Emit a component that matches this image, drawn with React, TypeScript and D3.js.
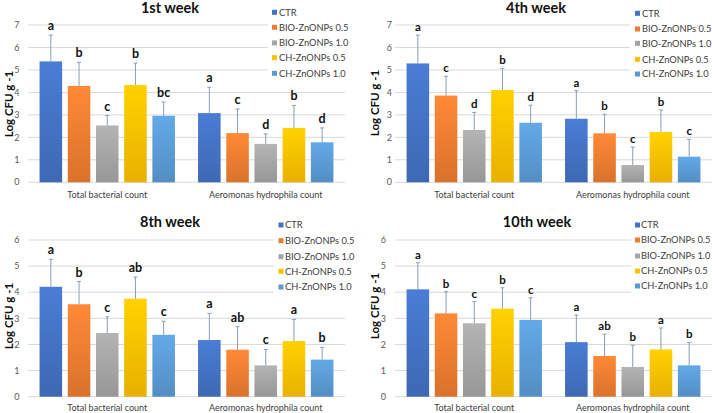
import React from "react";
import * as d3 from "d3";

const categories = ["Total bacterial count", "Aeromonas hydrophila count"];
const seriesNames = ["CTR", "BIO-ZnONPs 0.5", "BIO-ZnONPs 1.0", "CH-ZnONPs 0.5", "CH-ZnONPs 1.0"];
const seriesColors = ["#4472C4", "#ED7D31", "#A5A5A5", "#FFC000", "#5B9BD5"];
const weekTitles = ["1st week", "4th week", "8th week", "10th week"];
const yMaxes = [7, 7, 6, 6];

// means per week: [total bacterial, aeromonas]
const week1Means = [[5.38, 4.29, 2.53, 4.33, 2.96], [3.08, 2.19, 1.71, 2.42, 1.78]];
const week1Errors = [[1.17, 1.05, 0.44, 0.97, 0.61], [1.15, 1.07, 0.44, 1.0, 0.64]];
const week1Letters = [["a", "b", "c", "b", "bc"], ["a", "c", "d", "b", "d"]];

const week4Means = [[5.29, 3.86, 2.33, 4.11, 2.65], [2.83, 2.18, 0.77, 2.24, 1.14]];
const week4Errors = [[1.26, 0.86, 0.78, 0.96, 0.78], [1.25, 0.85, 0.8, 0.98, 0.77]];
const week4Letters = [["a", "c", "d", "b", "d"], ["a", "b", "c", "b", "c"]];

const week8Means = [[4.21, 3.54, 2.44, 3.75, 2.37], [2.17, 1.8, 1.2, 2.13, 1.42]];
const week8Errors = [[1.05, 0.87, 0.62, 0.83, 0.52], [1.02, 0.88, 0.61, 0.83, 0.47]];
const week8Letters = [["a", "b", "c", "ab", "c"], ["a", "ab", "c", "a", "b"]];

const week10Means = [[4.11, 3.19, 2.81, 3.37, 2.94], [2.09, 1.56, 1.14, 1.81, 1.2]];
const week10Errors = [[1.02, 0.83, 0.83, 0.8, 0.85], [1.04, 0.84, 0.83, 0.82, 0.88]];
const week10Letters = [["a", "b", "c", "b", "c"], ["a", "ab", "b", "a", "b"]];

const allMeans = [week1Means, week4Means, week8Means, week10Means];
const allErrors = [week1Errors, week4Errors, week8Errors, week10Errors];
const allLetters = [week1Letters, week4Letters, week8Letters, week10Letters];

type Layout = {
  x0: number; x1: number; y0: number; y1: number;
  tickX: number; titleX: number; titleY: number;
  yTitleX: number; yTitleY: number; catY: number;
  legX: number; legTextX: number; legYs: number[]; legBox: [number, number, number, number];
  letterGap: number; letterSize: number;
};

const layouts: Layout[] = [
  { x0: 28, x1: 345, y0: 182.3, y1: 25, tickX: 19.5, titleX: 170, titleY: 12.5, yTitleX: 9, yTitleY: 104, catY: 197.5,
    legX: 272, legTextX: 279, legYs: [12.3, 27.3, 42.9, 57.7, 73.3], legBox: [268, 3, 80, 78], letterGap: 5, letterSize: 12.5 },
  { x0: 395, x1: 712, y0: 182.3, y1: 25, tickX: 392, titleX: 536, titleY: 13, yTitleX: 375, yTitleY: 103, catY: 197.5,
    legX: 635, legTextX: 642, legYs: [13.3, 29, 43.3, 59.3, 74], legBox: [630, 4, 82, 78], letterGap: 4, letterSize: 11.5 },
  { x0: 28, x1: 345, y0: 396.7, y1: 240, tickX: 19.5, titleX: 170, titleY: 226.5, yTitleX: 9, yTitleY: 316, catY: 411,
    legX: 278.5, legTextX: 285, legYs: [225, 240.7, 256.7, 271.3, 287], legBox: [274, 216, 75, 78], letterGap: 5, letterSize: 12.5 },
  { x0: 395, x1: 712, y0: 396.7, y1: 240, tickX: 386, titleX: 537, titleY: 226.5, yTitleX: 375, yTitleY: 306, catY: 411,
    legX: 635, legTextX: 641, legYs: [225, 240, 256, 271, 286], legBox: [631, 216, 81, 78], letterGap: 4, letterSize: 11.5 },
];

const FONT = "Lato, 'Open Sans', sans-serif";

function Panel({ idx }: { idx: number }) {
  const L = layouts[idx];
  const means = allMeans[idx];
  const errs = allErrors[idx];
  const letters = allLetters[idx];
  const yMax = yMaxes[idx];
  const y = d3.scaleLinear().domain([0, yMax]).range([L.y0, L.y1]);
  const xCat = d3.scaleBand<string>().domain(categories).range([L.x0, L.x1]).padding(0);
  const xSer = d3.scaleBand<string>().domain(seriesNames).range([0, xCat.bandwidth()]).paddingInner(0.2).paddingOuter(0.41);
  const ticks = d3.range(0, yMax + 1);
  return (
    <g>
      {ticks.map((t) => (
        <g key={t}>
          <line x1={L.x0} x2={L.x1} y1={y(t)} y2={y(t)} stroke="#d9d9d9" strokeWidth={1} />
          <text x={L.tickX} y={y(t)} dy="0.35em" textAnchor="end" fontSize={9} fill="#595959" fontFamily={FONT}>{t}</text>
        </g>
      ))}
      {categories.map((c, ci) => (
        <g key={c}>
          {seriesNames.map((s, si) => {
            const bx = (xCat(c) as number) + (xSer(s) as number);
            const bw = xSer.bandwidth();
            const m = means[ci][si];
            const top = m + errs[ci][si];
            const cx = bx + bw / 2;
            return (
              <g key={s}>
                <rect x={bx} y={y(m)} width={bw} height={y(0) - y(m)} fill={`url(#grad${si})`} />
                <line x1={cx} x2={cx} y1={y(m)} y2={y(top)} stroke="#8c9db5" strokeWidth={1} />
                <line x1={cx - 2} x2={cx + 2} y1={y(top)} y2={y(top)} stroke="#8c9db5" strokeWidth={1} />
                <text x={cx} y={y(top) - L.letterGap} textAnchor="middle" fontSize={L.letterSize} fontWeight="bold" fill="#111" fontFamily={FONT}>{letters[ci][si]}</text>
              </g>
            );
          })}
          <text x={(xCat(c) as number) + xCat.bandwidth() / 2} y={L.catY} textAnchor="middle" fontSize={9} fill="#404040" fontFamily={FONT}>{c}</text>
        </g>
      ))}
      <text x={L.titleX} y={L.titleY} textAnchor="middle" fontSize={14.5} fontWeight="bold" fill="#111" fontFamily={FONT}>{weekTitles[idx]}</text>
      <text transform={`translate(${L.yTitleX},${L.yTitleY}) rotate(-90)`} textAnchor="middle" dy="0.35em" fontSize={11.5} fontWeight="bold" fill="#111" fontFamily={FONT}>Log CFU g -1</text>
      <rect x={L.legBox[0]} y={L.legBox[1]} width={L.legBox[2]} height={L.legBox[3]} fill="#fff" />
      {seriesNames.map((s, si) => (
        <g key={s}>
          <rect x={L.legX} y={L.legYs[si] - 2.5} width={5} height={5} fill={seriesColors[si]} />
          <text x={L.legTextX} y={L.legYs[si]} dy="0.35em" fontSize={9.3} fill="#404040" fontFamily={FONT}>{s}</text>
        </g>
      ))}
    </g>
  );
}

export default function App() {
  return (
    <svg width={712} height={413} style={{ position: "absolute", left: 0, top: 0, background: "#fff" }}>
      <defs>
        {seriesColors.map((c, i) => {
          const col = d3.color(c) as d3.RGBColor;
          return (
            <linearGradient key={i} id={`grad${i}`} x1="0" y1="0" x2="0" y2="1">
              <stop offset="0%" stopColor={col.brighter(0.25).formatHex()} />
              <stop offset="100%" stopColor={col.darker(0.25).formatHex()} />
            </linearGradient>
          );
        })}
      </defs>
      <rect width={712} height={413} fill="#fff" />
      {[0, 1, 2, 3].map((i) => <Panel key={i} idx={i} />)}
    </svg>
  );
}
